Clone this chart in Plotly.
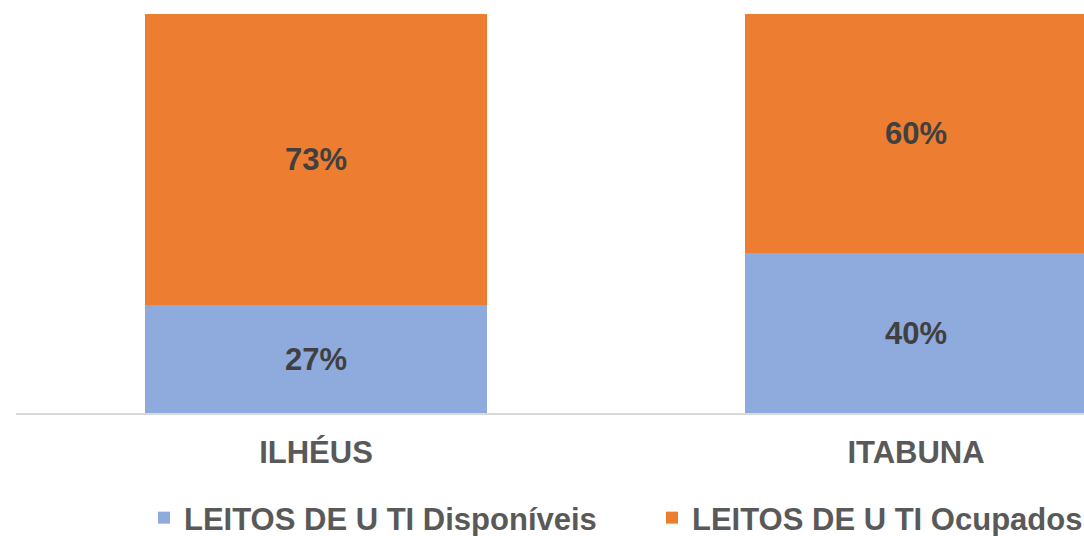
import plotly.graph_objects as go

categories = ["ILHÉUS", "ITABUNA"]
disponiveis = [27, 40]
ocupados = [73, 60]
series_names = ["LEITOS DE U TI Disponíveis", "LEITOS DE U TI Ocupados"]

FONT = "Liberation Sans, Arial, sans-serif"

fig = go.Figure()
fig.add_trace(go.Bar(
    x=categories, y=disponiveis, name=series_names[0],
    marker=dict(color="#8FAADC", line=dict(width=0)),
    text=[f"{v}%" for v in disponiveis], textposition="inside",
    insidetextanchor="middle",
    textfont=dict(family=FONT, size=31, color="#404040", weight="bold"),
    width=0.57, legend="legend", showlegend=True,
))
fig.add_trace(go.Bar(
    x=categories, y=ocupados, name=series_names[1],
    marker=dict(color="#ED7D31", line=dict(width=0)),
    text=[f"{v}%" for v in ocupados], textposition="inside",
    insidetextanchor="middle",
    textfont=dict(family=FONT, size=31, color="#404040", weight="bold"),
    width=0.57, legend="legend2", showlegend=True,
))

legend_font = dict(family=FONT, size=31, color="#595959", weight="bold")

fig.update_layout(
    barmode="stack",
    showlegend=True,
    width=1084, height=536,
    margin=dict(l=16, r=0, t=14, b=123, pad=0, autoexpand=False),
    paper_bgcolor="white", plot_bgcolor="white",
    font=dict(family=FONT, color="#595959"),
    xaxis=dict(
        range=[-0.5, 1.28], showline=True, linecolor="#D9D9D9", linewidth=2,
        showgrid=False, ticks="", zeroline=False,
        tickfont=dict(family=FONT, size=31, color="#595959", weight="bold"),
        ticklabelstandoff=11,
    ),
    yaxis=dict(range=[0, 100], visible=False, showgrid=False, zeroline=False),
    legend=dict(
        orientation="h", xref="container", yref="container",
        x=144 / 1084, xanchor="left", y=(536 - 518) / 536, yanchor="middle",
        font=legend_font, itemwidth=30, bgcolor="rgba(0,0,0,0)", visible=True,
    ),
    legend2=dict(
        orientation="h", xref="container", yref="container",
        x=652 / 1084, xanchor="left", y=(536 - 518) / 536, yanchor="middle",
        font=legend_font, itemwidth=30, bgcolor="rgba(0,0,0,0)", visible=True,
    ),
)

fig.write_html(
    "out.html",
    config={"displayModeBar": False},
    post_script="document.body.style.margin='0';document.body.style.overflow='hidden';",
)
